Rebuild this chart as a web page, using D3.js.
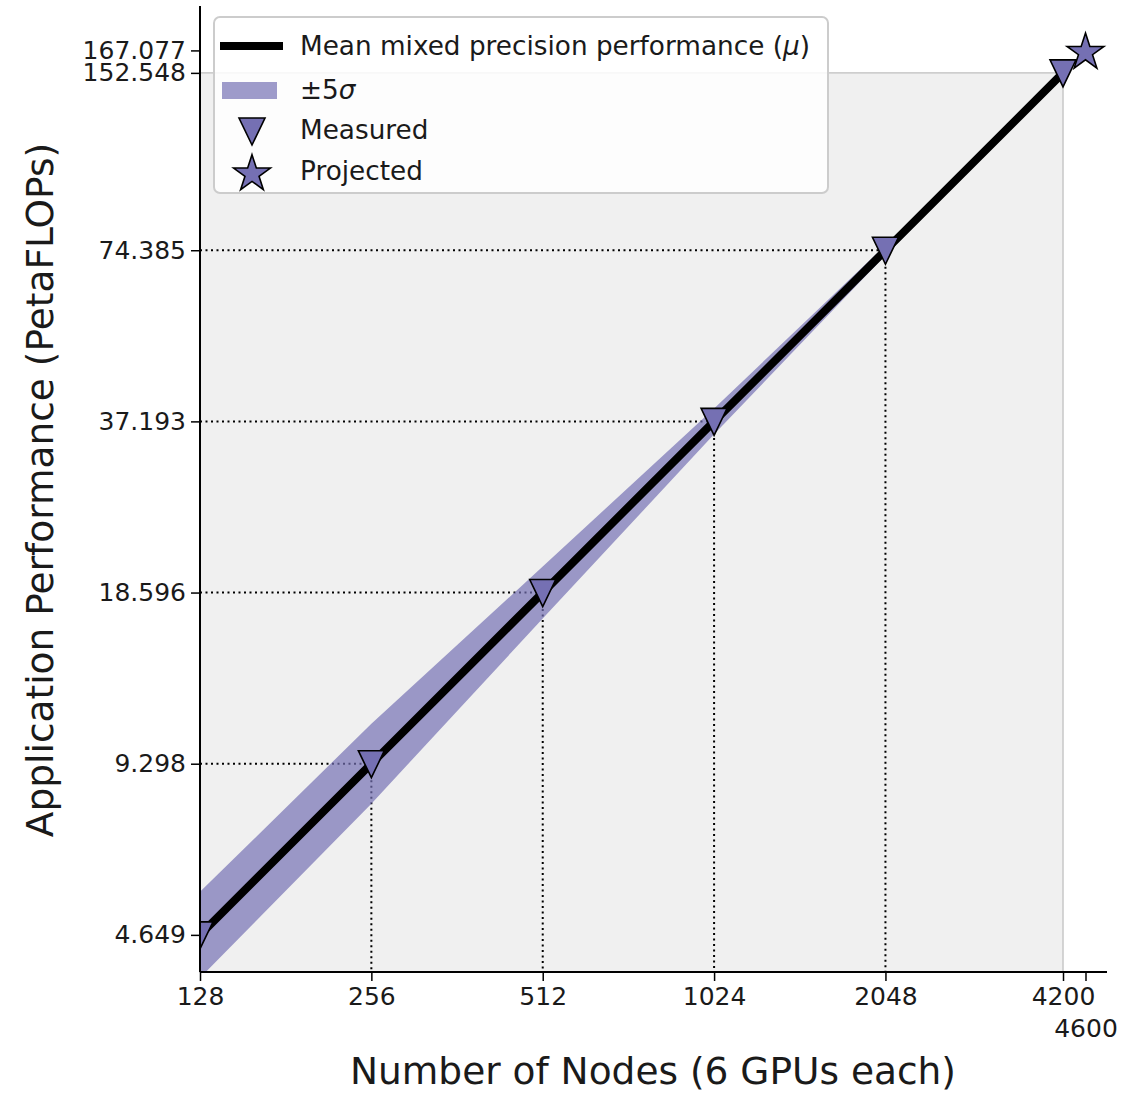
<!DOCTYPE html>
<html>
  <head>
    <meta charset="utf-8">
    <title>Mixed precision scaling</title>
    <script type="text/javascript" src="https://cdn.jsdelivr.net/npm/d3@7"></script>
    <style type='text/css'>
      body { margin: 0; background: white; }
      text { font-family: 'DejaVu Sans', sans-serif; fill: #1a1a1a; }
    </style>
  </head>
  <body>
    <script type="text/javascript">
      var w = 1140;
      var h = 1094;

      // measured points (nodes, PetaFLOPs)
      var nodes = [128, 256, 512, 1024, 2048, 4200];
      var perf = [4.649, 9.298, 18.596, 37.193, 74.385, 152.548];
      // +/- 5 sigma band
      var bandUpper = [5.534, 10.93, 20.66, 39.2, 75.9, 153.16];
      var bandLower = [3.906, 7.908, 16.74, 35.29, 72.9, 151.94];
      // projected point
      var projNodes = [4600];
      var projPerf = [167.077];
      // nodes that get dotted guide lines
      var guideNodes = [256, 512, 1024, 2048];
      var guidePerf = [9.298, 18.596, 37.193, 74.385];

      var xTicks = [128, 256, 512, 1024, 2048, 4200, 4600];
      var yTicks = [4.649, 9.298, 18.596, 37.193, 74.385, 152.548, 167.077];
      var yTickLabels = ['4.649', '9.298', '18.596', '37.193', '74.385', '152.548', '167.077'];

      var pLeft = 200, pRight = 1107, pTop = 6, pBottom = 972;

      var x = d3.scaleLog().base(2).domain([128, 5018]).range([pLeft, pRight]);
      var y = d3.scaleLog().base(2).domain([4.0, 200]).range([pBottom, pTop]);

      var svg = d3.select('body')
                  .append('svg')
                  .attr('width', w)
                  .attr('height', h);

      svg.append('defs').append('clipPath')
        .attr('id', 'plotclip')
        .append('rect')
        .attr('x', pLeft).attr('y', pTop)
        .attr('width', pRight - pLeft).attr('height', pBottom - pTop);

      // grey background up to the last measured point
      svg.append('rect')
        .attr('x', x(nodes[0]))
        .attr('y', y(perf[perf.length - 1]))
        .attr('width', x(nodes[nodes.length - 1]) - x(nodes[0]))
        .attr('height', pBottom - y(perf[perf.length - 1]))
        .attr('fill', '#f0f0f0')
        .attr('stroke', '#c8c8c8')
        .attr('stroke-width', 1.5);

      var plot = svg.append('g').attr('clip-path', 'url(#plotclip)');

      // dotted guides
      guideNodes.forEach(function(n, i) {
        plot.append('line')
          .attr('x1', pLeft).attr('x2', x(n))
          .attr('y1', y(guidePerf[i])).attr('y2', y(guidePerf[i]))
          .attr('stroke', 'black').attr('stroke-width', 2)
          .attr('stroke-dasharray', '2,3.5');
        plot.append('line')
          .attr('x1', x(n)).attr('x2', x(n))
          .attr('y1', y(guidePerf[i])).attr('y2', pBottom)
          .attr('stroke', 'black').attr('stroke-width', 2)
          .attr('stroke-dasharray', '2,3.5');
      });

      var area = d3.area()
        .x(function(d, i) { return x(nodes[i]); })
        .y0(function(d, i) { return y(bandLower[i]); })
        .y1(function(d, i) { return y(bandUpper[i]); });

      plot.append('path')
        .datum(nodes)
        .attr('d', area)
        .attr('fill', '#7570b3')
        .attr('fill-opacity', 0.7);

      var line = d3.line()
        .x(function(d, i) { return x(nodes[i]); })
        .y(function(d, i) { return y(perf[i]); });

      plot.append('path')
        .datum(nodes)
        .attr('d', line)
        .attr('fill', 'none')
        .attr('stroke', 'black')
        .attr('stroke-width', 8);

      var tri = 'M-13,-13L13,-13L0,14Z';
      var star = d3.symbol().type(d3.symbolStar).size(420);

      plot.selectAll('path.meas')
        .data(nodes)
        .enter()
        .append('path')
        .attr('class', 'meas')
        .attr('d', tri)
        .attr('transform', function(d, i) { return 'translate(' + x(d) + ',' + y(perf[i]) + ')'; })
        .attr('fill', '#7570b3')
        .attr('stroke', 'black')
        .attr('stroke-width', 1.6);

      plot.selectAll('path.proj')
        .data(projNodes)
        .enter()
        .append('path')
        .attr('class', 'proj')
        .attr('d', star)
        .attr('transform', function(d, i) { return 'translate(' + x(d) + ',' + (y(projPerf[i]) + 2) + ')'; })
        .attr('fill', '#7570b3')
        .attr('stroke', 'black')
        .attr('stroke-width', 1.6);

      // axes
      var xAxis = d3.axisBottom(x)
        .tickValues(xTicks)
        .tickFormat(d3.format('d'))
        .tickSize(9)
        .tickPadding(6);

      var gx = svg.append('g')
        .attr('transform', 'translate(0,' + pBottom + ')')
        .call(xAxis);
      gx.select('.domain').attr('stroke-width', 2).attr('d', 'M' + pLeft + ',0H' + pRight);
      gx.selectAll('.tick line').attr('stroke-width', 1.5);
      gx.selectAll('.tick text')
        .attr('font-size', 25)
        .attr('font-family', 'DejaVu Sans')
        .attr('fill', '#1a1a1a')
        .attr('dy', function(d) { return d === 4600 ? '2.0em' : '0.71em'; });

      var yAxis = d3.axisLeft(y)
        .tickValues(yTicks)
        .tickFormat(function(d, i) { return yTickLabels[i]; })
        .tickSize(9)
        .tickPadding(5);

      var gy = svg.append('g')
        .attr('transform', 'translate(' + pLeft + ',0)')
        .call(yAxis);
      gy.select('.domain').attr('stroke-width', 2).attr('d', 'M0,' + pTop + 'V' + pBottom);
      gy.selectAll('.tick line').attr('stroke-width', 1.5);
      gy.selectAll('.tick text')
        .attr('font-size', 25)
        .attr('font-family', 'DejaVu Sans')
        .attr('fill', '#1a1a1a');

      svg.append('text')
        .attr('x', 653).attr('y', 1084)
        .attr('text-anchor', 'middle')
        .attr('font-size', 37.5)
        .text('Number of Nodes (6 GPUs each)');

      svg.append('text')
        .attr('transform', 'translate(53,490) rotate(-90)')
        .attr('text-anchor', 'middle')
        .attr('font-size', 37.5)
        .text('Application Performance (PetaFLOPs)');

      // legend
      var lg = svg.append('g');
      lg.append('rect')
        .attr('x', 214).attr('y', 17)
        .attr('width', 614).attr('height', 176)
        .attr('rx', 6)
        .attr('fill', 'white').attr('fill-opacity', 0.85)
        .attr('stroke', '#cccccc').attr('stroke-width', 2);

      lg.append('line')
        .attr('x1', 220).attr('x2', 283).attr('y1', 46).attr('y2', 46)
        .attr('stroke', 'black').attr('stroke-width', 8);
      var t1 = lg.append('text').attr('x', 300).attr('y', 55).attr('font-size', 26.3);
      t1.append('tspan').text('Mean mixed precision performance (');
      t1.append('tspan').attr('font-style', 'italic').text('\u03bc');
      t1.append('tspan').text(')');

      lg.append('rect')
        .attr('x', 222).attr('y', 82).attr('width', 55).attr('height', 17)
        .attr('fill', '#7570b3').attr('fill-opacity', 0.7);
      var t2 = lg.append('text').attr('x', 300).attr('y', 99).attr('font-size', 26.3);
      t2.append('tspan').text('\u00b15');
      t2.append('tspan').attr('font-style', 'italic').text('\u03c3');

      lg.append('path')
        .attr('d', tri)
        .attr('transform', 'translate(252,131)')
        .attr('fill', '#7570b3').attr('stroke', 'black').attr('stroke-width', 1.6);
      lg.append('text').attr('x', 300).attr('y', 139).attr('font-size', 26.3).text('Measured');

      lg.append('path')
        .attr('d', star)
        .attr('transform', 'translate(252,174)')
        .attr('fill', '#7570b3').attr('stroke', 'black').attr('stroke-width', 1.6);
      lg.append('text').attr('x', 300).attr('y', 180).attr('font-size', 26.3).text('Projected');
    </script>
  </body>
</html>
